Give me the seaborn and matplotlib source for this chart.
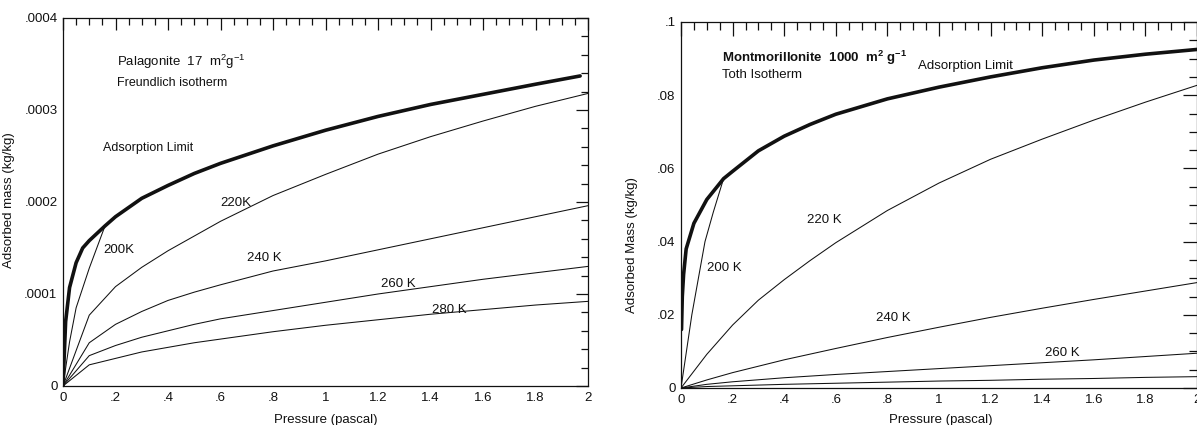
"""
Adsorption isotherms: Palagonite (Freundlich) and Montmorillonite (Toth)
"""
import numpy as np
import matplotlib
matplotlib.use('Agg')
import matplotlib.pyplot as plt
import seaborn as sns
from matplotlib.ticker import FixedLocator, FixedFormatter, MultipleLocator

# ---- Palagonite 17 m2/g (values in 1e-4 kg/kg) ----
PAL_LIMIT_P = [0, 0.01, 0.025, 0.05, 0.075, 0.1, 0.16, 0.2, 0.3, 0.4, 0.5, 0.6, 0.8, 1.0, 1.2, 1.4, 1.6, 1.8, 1.97]
PAL_LIMIT_M = [0, 0.70, 1.07, 1.34, 1.50, 1.58, 1.74, 1.84, 2.04, 2.18, 2.31, 2.42, 2.61, 2.78, 2.93, 3.06, 3.17, 3.28, 3.37]
PAL_200_P = [0, 0.025, 0.05, 0.1, 0.16]
PAL_200_M = [0, 0.48, 0.85, 1.28, 1.74]
PAL_P = [0, 0.1, 0.2, 0.3, 0.4, 0.5, 0.6, 0.8, 1.0, 1.2, 1.4, 1.6, 1.8, 2.0]
PAL_220_M = [0, 0.77, 1.08, 1.29, 1.47, 1.63, 1.79, 2.07, 2.30, 2.52, 2.71, 2.88, 3.04, 3.18]
PAL_240_M = [0, 0.47, 0.67, 0.81, 0.93, 1.02, 1.10, 1.25, 1.36, 1.48, 1.60, 1.72, 1.84, 1.96]
PAL_260_M = [0, 0.33, 0.44, 0.53, 0.60, 0.67, 0.73, 0.82, 0.91, 1.00, 1.08, 1.16, 1.23, 1.30]
PAL_280_M = [0, 0.23, 0.30, 0.37, 0.42, 0.47, 0.51, 0.59, 0.66, 0.72, 0.78, 0.83, 0.88, 0.92]

# ---- Montmorillonite 1000 m2/g (kg/kg) ----
MON_LIMIT_P = [0.002, 0.005, 0.01, 0.02, 0.05, 0.1, 0.165, 0.2, 0.3, 0.4, 0.5, 0.6, 0.8, 1.0, 1.2, 1.4, 1.6, 1.8, 2.0]
MON_LIMIT_M = [0.016, 0.025, 0.031, 0.038, 0.045, 0.0515, 0.0572, 0.0592, 0.0648, 0.0688, 0.072, 0.0748,
               0.079, 0.0822, 0.085, 0.0875, 0.0896, 0.0912, 0.0925]
MON_200_P = [0, 0.02, 0.042, 0.07, 0.093, 0.125, 0.165]
MON_200_M = [0, 0.0095, 0.020, 0.031, 0.040, 0.048, 0.0572]
MON_220_P = [0, 0.1, 0.2, 0.3, 0.4, 0.5, 0.6, 0.8, 1.0, 1.2, 1.4, 1.6, 1.8, 2.0]
MON_220_M = [0, 0.0092, 0.0172, 0.024, 0.0296, 0.0348, 0.0397, 0.0485, 0.056, 0.0625, 0.068, 0.0732, 0.0781, 0.0827]
MON_P = [0, 0.1, 0.2, 0.4, 0.6, 0.8, 1.0, 1.2, 1.4, 1.6, 1.8, 2.0]
MON_240_M = [0, 0.0022, 0.0042, 0.0077, 0.0108, 0.0138, 0.0166, 0.0193, 0.0218, 0.0242, 0.0265, 0.0288]
MON_260_M = [0, 0.001, 0.0017, 0.0028, 0.0037, 0.0045, 0.0053, 0.0061, 0.0069, 0.0077, 0.0086, 0.0095]
MON_280_M = [0, 0.0004, 0.0006, 0.001, 0.0013, 0.0016, 0.0019, 0.0021, 0.0024, 0.0026, 0.0029, 0.0031]

X_TICKS = [0, 0.2, 0.4, 0.6, 0.8, 1.0, 1.2, 1.4, 1.6, 1.8, 2.0]
X_LABELS = ['0', '.2', '.4', '.6', '.8', '1', '1.2', '1.4', '1.6', '1.8', '2']
PAL_Y_TICKS = [0, 0.0001, 0.0002, 0.0003, 0.0004]
PAL_Y_LABELS = ['0', '.0001', '.0002', '.0003', '.0004']
MON_Y_TICKS = [0, 0.02, 0.04, 0.06, 0.08, 0.1]
MON_Y_LABELS = ['0', '.02', '.04', '.06', '.08', '.1']

sns.set_style('white')
plt.rcParams['font.family'] = ['Liberation Sans', 'DejaVu Sans']
plt.rcParams['mathtext.fontset'] = 'custom'
plt.rcParams['mathtext.rm'] = 'Liberation Sans'
plt.rcParams['mathtext.bf'] = 'Liberation Sans:bold'

INK = '#111111'
THIN = 0.75
THICK = 2.6


def curve(ax, p, m, lw, scale=1.0):
    """Draw one isotherm with seaborn"""
    sns.lineplot(x=p, y=np.asarray(m) * scale, ax=ax, color=INK, lw=lw,
                 estimator=None, sort=False, legend=False)


def style_axes(ax, yticks, ylabels, yminor, major_len, minor_len):
    """Inward ticks on all four sides with the old typewriter labels"""
    ax.set_xlim(0, 2)
    ax.set_ylim(yticks[0], yticks[-1])
    ax.xaxis.set_major_locator(FixedLocator(X_TICKS))
    ax.xaxis.set_major_formatter(FixedFormatter(X_LABELS))
    ax.xaxis.set_minor_locator(MultipleLocator(0.05))
    ax.yaxis.set_major_locator(FixedLocator(yticks))
    ax.yaxis.set_major_formatter(FixedFormatter(ylabels))
    ax.yaxis.set_minor_locator(MultipleLocator(yminor))
    ax.tick_params(which='both', direction='in', top=True, right=True,
                   width=0.9, color=INK, labelsize=9.5, labelcolor=INK, pad=4)
    ax.tick_params(which='major', length=major_len)
    ax.tick_params(which='minor', length=minor_len)
    for s in ax.spines.values():
        s.set_color(INK)
        s.set_linewidth(0.9)
    ax.set_facecolor('white')


fig = plt.figure(figsize=(11.97, 4.25), dpi=100)
ax1 = fig.add_axes([63 / 1197, 39 / 425, 525 / 1197, 368 / 425])
ax2 = fig.add_axes([681 / 1197, 37 / 425, 516 / 1197, 366 / 425])

# Palagonite
curve(ax1, PAL_LIMIT_P, PAL_LIMIT_M, THICK, 1e-4)
curve(ax1, PAL_200_P, PAL_200_M, THIN, 1e-4)
for vals in [PAL_220_M, PAL_240_M, PAL_260_M, PAL_280_M]:
    curve(ax1, PAL_P, vals, THIN, 1e-4)
style_axes(ax1, PAL_Y_TICKS, PAL_Y_LABELS, 0.00002, 8.5, 5)
ax1.set_xlabel('Pressure (pascal)', fontsize=9.5, color=INK)
ax1.set_ylabel('Adsorbed mass (kg/kg)', fontsize=9.5, color=INK)
ax1.xaxis.set_label_coords(0.5, -0.076)
ax1.yaxis.set_label_coords(-0.092, 0.505)

fs = 9.5
ax1.text(0.206, 0.000352, r'Palagonite  17  m$^{2}$g$^{-1}$', fontsize=fs, color=INK, va='center')
ax1.text(0.206, 0.000329, 'Freundlich isotherm', fontsize=fs - 0.5, color=INK, va='center')
ax1.text(0.152, 0.000259, 'Adsorption Limit', fontsize=fs - 0.5, color=INK, va='center')
ax1.text(0.60, 0.000199, '220K', fontsize=fs, color=INK, va='center')
ax1.text(0.152, 0.000148, '200K', fontsize=fs, color=INK, va='center')
ax1.text(0.70, 0.000139, '240 K', fontsize=fs, color=INK, va='center')
ax1.text(1.21, 0.000111, '260 K', fontsize=fs, color=INK, va='center')
ax1.text(1.405, 0.000083, '280 K', fontsize=fs, color=INK, va='center')

# Montmorillonite
curve(ax2, MON_LIMIT_P, MON_LIMIT_M, THICK)
curve(ax2, MON_200_P, MON_200_M, THIN)
curve(ax2, MON_220_P, MON_220_M, THIN)
for vals in [MON_240_M, MON_260_M, MON_280_M]:
    curve(ax2, MON_P, vals, THIN)
style_axes(ax2, MON_Y_TICKS, MON_Y_LABELS, 0.005, 10, 6)
ax2.set_xlabel('Pressure (pascal)', fontsize=9.5, color=INK)
ax2.set_ylabel('Adsorbed Mass (kg/kg)', fontsize=9.5, color=INK)
ax2.xaxis.set_label_coords(0.503, -0.072)
ax2.yaxis.set_label_coords(-0.084, 0.39)

ax2.text(0.16, 0.0903, r'Montmorillonite  1000  m$^{\mathbf{2}}$ g$^{\mathbf{-1}}$', fontsize=fs,
         fontweight='bold', color=INK, va='center')
ax2.text(0.16, 0.0854, 'Toth Isotherm', fontsize=fs, color=INK, va='center')
ax2.text(0.918, 0.0881, 'Adsorption Limit', fontsize=fs, color=INK, va='center')
ax2.text(0.49, 0.0458, '220 K', fontsize=fs, color=INK, va='center')
ax2.text(0.10, 0.0327, '200 K', fontsize=fs, color=INK, va='center')
ax2.text(0.755, 0.0191, '240 K', fontsize=fs, color=INK, va='center')
ax2.text(1.41, 0.0095, '260 K', fontsize=fs, color=INK, va='center')

fig.savefig('out.png', dpi=100, facecolor='white')
plt.close(fig)
